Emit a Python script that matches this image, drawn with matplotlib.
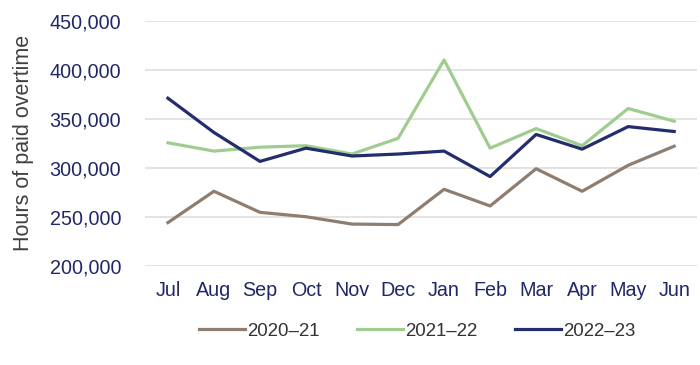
import matplotlib.pyplot as plt
from matplotlib.ticker import FuncFormatter

plt.rcParams['font.family'] = ['Liberation Sans', 'DejaVu Sans']

# Months and hours of paid overtime
months = ["Jul", "Aug", "Sep", "Oct", "Nov", "Dec",
          "Jan", "Feb", "Mar", "Apr", "May", "Jun"]
fy2021 = [244000, 276000, 254500, 250000, 242500, 242000,
          278000, 261000, 299000, 276000, 302500, 322000]
fy2122 = [325500, 317000, 321000, 322500, 314000, 330000,
          410000, 320000, 340000, 322500, 360500, 347500]
fy2223 = [371000, 336000, 306500, 320000, 312000, 314000,
          317000, 291000, 334000, 319000, 342000, 337000]

navy = "#1f2766"
fig = plt.figure(figsize=(7, 3.65), dpi=100)
ax = fig.add_axes([0.207, 0.272, 0.789, 0.671])

x = range(len(months))
ax.plot(x, fy2021, color="#8f7e70", lw=2.3, label="2020\u201321")
ax.plot(x, fy2122, color="#9fcd8f", lw=2.3, label="2021\u201322")
ax.plot(x, fy2223, color="#232d6e", lw=2.3, label="2022\u201323")

ax.set_xlim(-0.5, 11.5)
ax.set_ylim(200000, 450000)
ax.set_yticks(range(200000, 450001, 50000))
ax.yaxis.set_major_formatter(FuncFormatter(lambda v, p: f"{int(v):,}"))
ax.set_xticks(list(x))
ax.set_xticklabels(months)
ax.tick_params(length=0, labelsize=14.2, colors=navy)
ax.tick_params(axis="x", pad=11)
ax.tick_params(axis="y", pad=17)
ax.grid(axis="y", color="#e0e0e0", lw=1.3)
ax.set_axisbelow(True)
for s in ax.spines.values():
    s.set_visible(False)

ax.set_ylabel("Hours of paid overtime", fontsize=15.5, color="#404040", labelpad=11)

fig.legend(loc="center", bbox_to_anchor=(0.596, 0.092), ncol=3, frameon=False,
           fontsize=13.4, handlelength=2.5, handletextpad=0.1, columnspacing=2.0,
           labelcolor="#333333")

fig.savefig("out.png", dpi=100)
